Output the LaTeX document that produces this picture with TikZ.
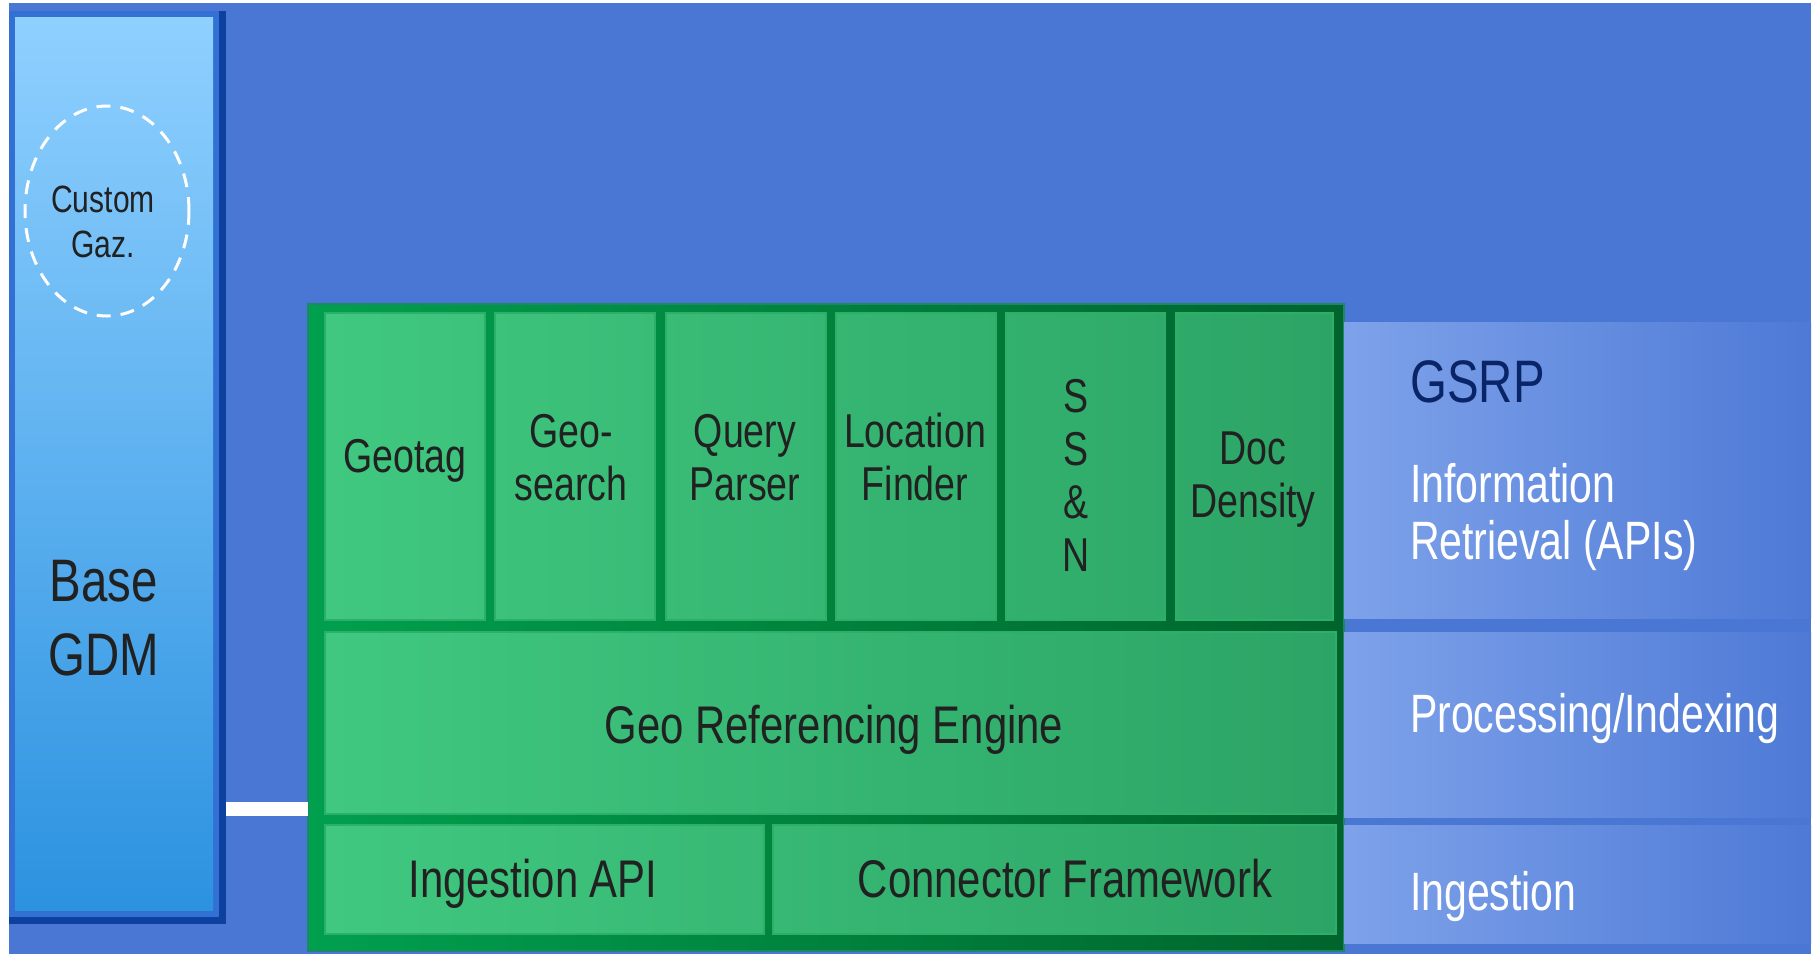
\documentclass[tikz,border=0pt]{standalone}
\usepackage{fontspec}
\newfontfamily\nf[FakeStretch=0.79]{Liberation Sans}
\newfontfamily\nfs[FakeStretch=0.76]{Liberation Sans}
\usetikzlibrary{shapes.geometric,fit}
\definecolor{bg}{RGB}{74,119,211}
\definecolor{bandL}{RGB}{126,162,234}
\definecolor{bandR}{RGB}{78,122,214}
\definecolor{gL}{RGB}{64,200,128}
\definecolor{gR}{RGB}{44,164,101}
\definecolor{frameL}{RGB}{0,160,78}
\definecolor{frameR}{RGB}{0,100,44}
\definecolor{frameRim}{RGB}{30,135,105}
\definecolor{cellEdge}{RGB}{44,176,104}
\definecolor{baseTop}{RGB}{143,208,255}
\definecolor{baseBot}{RGB}{44,146,224}
\definecolor{baseDark}{RGB}{14,64,160}
\definecolor{baseMid}{RGB}{50,112,212}
\definecolor{navy}{RGB}{10,36,104}
\definecolor{ink}{RGB}{33,33,33}
\newcommand\fCell{\nf\fontsize{23.75pt}{26.5pt}\selectfont}
\newcommand\fRow{\nf\fontsize{26.5pt}{28.5pt}\selectfont}
\newcommand\fSide{\nfs\fontsize{27pt}{28.5pt}\selectfont}
\newcommand\fBig{\nf\fontsize{30pt}{37pt}\selectfont}
\newcommand\fSmall{\nf\fontsize{19pt}{22.5pt}\selectfont}
\begin{document}
\begin{tikzpicture}[x=0.5pt,y=-0.5pt,
  box/.style={inner sep=0pt, outer sep=0pt},
  cellbox/.style={box, draw=cellEdge, line width=1.2pt},
  band/.style={box, left color=bandL, right color=bandR},
  txt/.style={inner sep=0pt, outer sep=0pt, text=ink, align=center},
  sidetxt/.style={inner sep=0pt, outer sep=0pt, text=white, align=left, font=\fSide}
]
\useasboundingbox (0,0) rectangle (1818,954);
\fill[white] (0,0) rectangle (1818,954);
\fill[bg] (9,3) rectangle (1811,954);

% Base GDM column
\node[box, fill=baseDark, fit={(9,11) (226,924)}] (base) {};
\fill[baseMid] (9,11) rectangle (219,917);
\shade[top color=baseTop, bottom color=baseBot] (15,17) rectangle (213,910);
\node[ellipse, draw=white, line width=1.5pt, dash pattern=on 7pt off 5pt,
      minimum width=82pt, minimum height=105pt, inner sep=0pt] (gaz) at (107,211) {};
\node[txt, font=\fSmall] at (103,221.5) {Custom\\Gaz.};
\node[txt, font=\fBig] at (104,618) {Base\\GDM};

% green block
\node[box, fit={(308,304) (1344,951)}, left color=frameL, right color=frameR,
      draw=frameRim, line width=0.8pt] (frame) {};

% connector
\draw[white, line width=7pt] (base.east |- 0,809) -- (frame.west |- 0,809);

% top row cells
\node[cellbox, fit={(325,313) (485,620)}, left color=gL, right color=gR!16!gL] (geotag) {};
\node[cellbox, fit={(495,313) (655,620)}, left color=gR!17!gL, right color=gR!33!gL] (geosearch) {};
\node[cellbox, fit={(666,313) (826,620)}, left color=gR!34!gL, right color=gR!50!gL] (query) {};
\node[cellbox, fit={(836,313) (996,620)}, left color=gR!51!gL, right color=gR!66!gL] (locfind) {};
\node[cellbox, fit={(1006,313) (1165,620)}, left color=gR!67!gL, right color=gR!83!gL] (ssn) {};
\node[cellbox, fit={(1176,313) (1333,620)}, left color=gR!84!gL, right color=gR] (docdens) {};
% middle row
\node[cellbox, fit={(325,632) (1336,814)}, left color=gL, right color=gR] (gre) {};
% bottom row
\node[cellbox, fit={(325,825) (764,934)}, left color=gL, right color=gR!43!gL] (ingapi) {};
\node[cellbox, fit={(773,825) (1336,934)}, left color=gR!44!gL, right color=gR] (connfw) {};

% cell texts
\node[txt, font=\fCell, anchor=base] at (405,472) {Geotag};
\node[txt, font=\fCell] at (571,457.5) {Geo-\\search};
\node[txt, font=\fCell] at (745,457.5) {Query\\Parser};
\node[txt, font=\fCell] at (915,457.5) {Location\\Finder};
\node[txt, font=\fCell] at (1076,475) {S\\S\\\&\\N};
\node[txt, font=\fCell] at (1253,479.5) {Doc\\Density};
\node[txt, font=\fRow, anchor=base] at (834,743) {Geo Referencing Engine};
\node[txt, font=\fRow, anchor=base] at (533,897) {Ingestion API};
\node[txt, font=\fRow, anchor=base] at (1065,897) {Connector Framework};

% right bands
\node[band, fit={(1344,322) (1811,618)}] (band1) {};
\node[band, fit={(1344,632) (1811,817)}] (band2) {};
\node[band, fit={(1344,825) (1811,943)}] (band3) {};
\node[inner sep=0pt, text=navy, font=\nf\fontsize{30pt}{36pt}\selectfont, anchor=base west] at (1410,402) {GSRP};
\node[sidetxt, anchor=west] at (1410,517.5) {Information\\Retrieval (APIs)};
\node[sidetxt, anchor=base west] at (1410,732) {Processing/Indexing};
\node[sidetxt, anchor=base west] at (1410,910) {Ingestion};
\end{tikzpicture}
\end{document}
